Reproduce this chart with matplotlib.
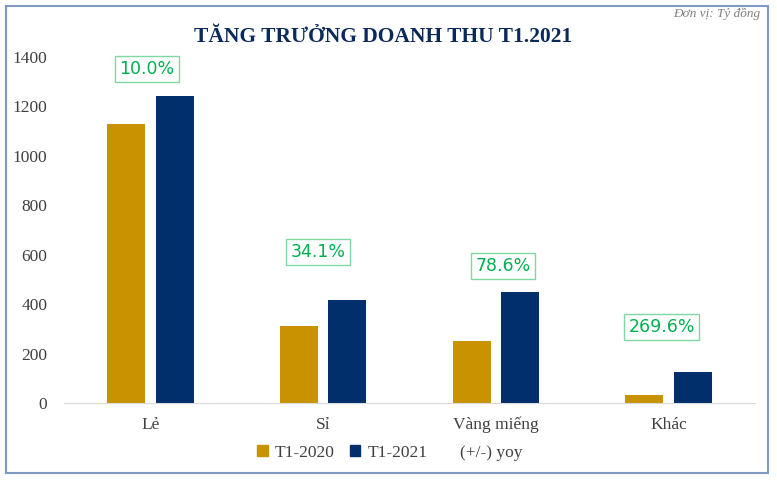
import matplotlib

matplotlib.use("Agg")
import matplotlib.pyplot as plt
import numpy as np
from matplotlib.patches import Rectangle
from matplotlib.lines import Line2D
from matplotlib.patches import Patch

# --- Data (Tỷ đồng) ---
categories = ["Lẻ", "Sỉ", "Vàng miếng", "Khác"]
t1_2020 = [1129, 311, 251, 34]
t1_2021 = [1242, 417, 449, 125]
yoy_labels = ["10.0%", "34.1%", "78.6%", "269.6%"]
yoy_label_y = [1351, 611, 554, 307]
yoy_label_dx = [-0.02, -0.03, 0.04, -0.04]

GOLD = "#C99200"
NAVY = "#002F6C"
GREEN = "#00B050"
TITLE = "#0A2A5C"

plt.rcParams["font.family"] = ["Liberation Serif", "DejaVu Serif"]

W, H = 777, 484
fig = plt.figure(figsize=(W / 100, H / 100), dpi=100)

# outer frame
fig.patches.append(Rectangle((6 / W, 1 - 473 / H), 762 / W, 467 / H, transform=fig.transFigure,
                             fill=False, edgecolor="#7F99C2", linewidth=1.5))

ax = fig.add_axes([64 / W, 1 - 403 / H, 691 / W, 346 / H])
x = np.arange(len(categories))
bw = 0.22
ax.bar(x - 0.14, t1_2020, bw, color=GOLD, label="T1-2020")
ax.bar(x + 0.14, t1_2021, bw, color=NAVY, label="T1-2021")

for i, lab in enumerate(yoy_labels):
    ax.text(x[i] + yoy_label_dx[i], yoy_label_y[i], lab, ha="center", va="center",
            color=GREEN, fontsize=12.5, family=["DejaVu Sans"],
            bbox=dict(boxstyle="square,pad=0.25", facecolor="white", edgecolor="#7FD8A0", linewidth=1))

ax.set_xlim(-0.5, len(categories) - 0.5)
ax.set_ylim(0, 1400)
ax.set_yticks(np.arange(0, 1401, 200))
ax.set_xticks(x)
ax.set_xticklabels(categories)
ax.tick_params(axis="both", length=0, labelsize=12.5, colors="#404040")
ax.tick_params(axis="x", pad=10)
ax.tick_params(axis="y", pad=12)
for s in ["top", "right", "left"]:
    ax.spines[s].set_visible(False)
ax.spines["bottom"].set_color("#D9D9D9")

fig.text(383 / W, 1 - 37 / H, "TĂNG TRƯỞNG DOANH THU T1.2021", ha="center", va="center",
         fontsize=15.5, fontweight="bold", color=TITLE)
fig.text(760 / W, 1 - 14 / H, "Đơn vị: Tỷ đồng", ha="right", va="center",
         fontsize=9.5, style="italic", color="#7F7F7F")

handles = [Patch(color=GOLD, label="T1-2020"), Patch(color=NAVY, label="T1-2021"),
           Line2D([], [], linestyle="none", label="(+/-) yoy")]
fig.legend(handles=handles, loc="center", bbox_to_anchor=(390 / W, 1 - 453 / H), ncol=3,
           frameon=False, fontsize=12.5, handlelength=0.6, handleheight=0.6, columnspacing=0.9,
           handletextpad=0.4, labelcolor="#404040")

fig.savefig("out.png", dpi=100)
